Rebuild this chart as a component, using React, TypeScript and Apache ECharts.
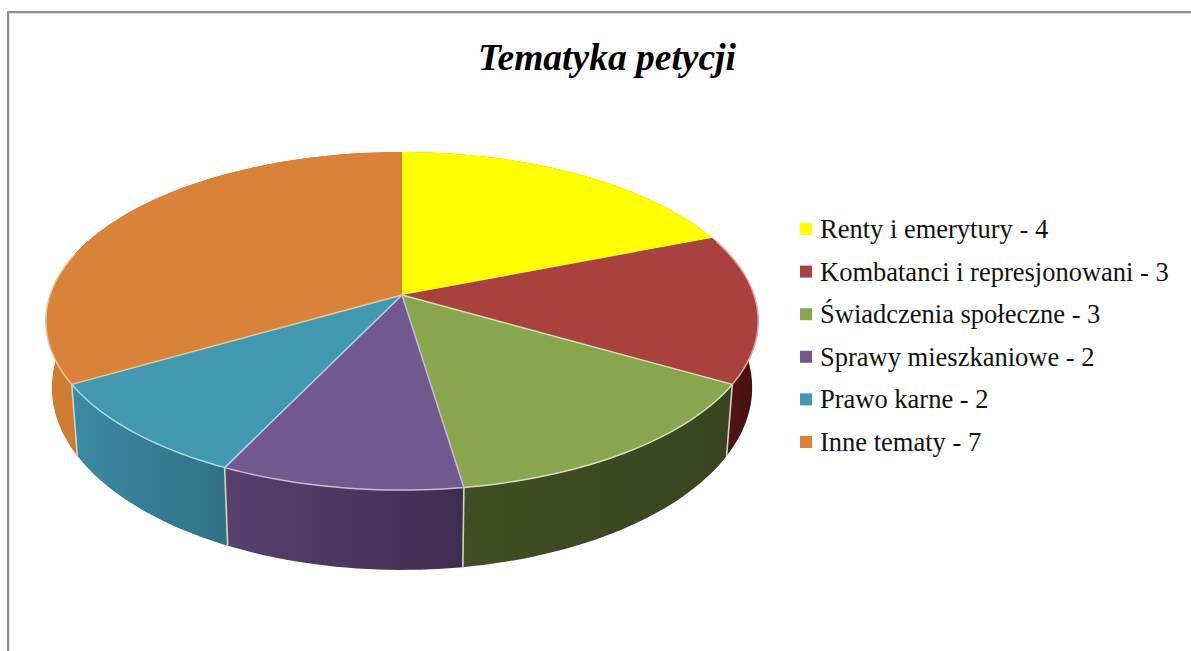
import React, { useEffect, useRef } from "react";
import * as echarts from "echarts";

const categories = [
  "Renty i emerytury - 4",
  "Kombatanci i represjonowani - 3",
  "Świadczenia społeczne - 3",
  "Sprawy mieszkaniowe - 2",
  "Prawo karne - 2",
  "Inne tematy - 7",
];
const values = [4, 3, 3, 2, 2, 7];

const topColors = ["#ffff00", "#a9423f", "#89a54e", "#71588f", "#4198af", "#d9833a"];
const wallLeft = ["#b5b500", "#5c1816", "#404e23", "#59406f", "#3a8aa3", "#d07c32"];
const wallRight = ["#8a8a00", "#460f10", "#39441f", "#3f2d50", "#317186", "#c0722c"];
const edgeColors = ["#ffffb0", "#e0a8a0", "#d9dfb4", "#c9bbd8", "#a8dbe6", "#ecc998"];

const total = values.reduce((a, b) => a + b, 0);
const startOf = (i: number) => values.slice(0, i).reduce((a, b) => a + b, 0);

// Perspective projection of the pie disc: u to the right, v towards the viewer.
const CX = 402;
const K = 0.154;
const project = (deg: number, cy: number, rx: number, ry: number): number[] => {
  const a = (deg * Math.PI) / 180;
  const u = Math.sin(a);
  const v = -Math.cos(a);
  const d = 1 - K * v;
  return [CX + (rx * u) / d, cy + (ry * v) / d];
};
const topPt = (deg: number) => project(deg, 295, 352, 165);
const basePt = (deg: number) => project(deg, 359.5, 346, 178);

const arc = (from: number, to: number, fn: (d: number) => number[]) => {
  const n = Math.max(2, Math.ceil((to - from) / 1.5));
  const pts: number[][] = [];
  for (let i = 0; i <= n; i++) pts.push(fn(from + ((to - from) * i) / n));
  return pts;
};

const makeRenderItem = (index: number) => () => {
  const from = (startOf(index) / total) * 360;
  const to = (startOf(index + 1) / total) * 360;
  const children: any[] = [];
  const wall = [...arc(from, to, topPt), ...arc(from, to, basePt).reverse()];
  children.push({
    type: "polygon",
    z2: 1,
    shape: { points: wall },
    style: {
      fill: {
        type: "linear",
        x: 0,
        y: 0,
        x2: 1,
        y2: 0,
        colorStops: [
          { offset: 0, color: wallLeft[index] },
          { offset: 1, color: wallRight[index] },
        ],
      },
    },
  });
  children.push({
    type: "polygon",
    z2: 10,
    shape: { points: [[CX, 295], ...arc(from, to, topPt)] },
    style: { fill: topColors[index] },
  });
  if (from > 90 && from < 270) {
    const a = topPt(from);
    const b = basePt(from);
    children.push({
      type: "line",
      z2: 5,
      shape: { x1: a[0], y1: a[1], x2: b[0], y2: b[1] },
      style: { stroke: "#d2d2c8", lineWidth: 1.6 },
    });
    children.push({
      type: "line",
      z2: 12,
      shape: { x1: CX, y1: 295, x2: a[0], y2: a[1] },
      style: { stroke: edgeColors[index], lineWidth: 1.5 },
    });
  }
  const arcFrom = Math.max(from, 70);
  const arcTo = Math.min(to, 285);
  if (arcFrom < arcTo) {
    children.push({
      type: "polyline",
      z2: 12,
      shape: { points: arc(arcFrom, arcTo, topPt) },
      style: { stroke: edgeColors[index], lineWidth: 1.5, fill: "none" },
    });
  }
  return { type: "group", children };
};

export default function App() {
  const ref = useRef<HTMLDivElement>(null);
  useEffect(() => {
    if (!ref.current) return;
    const chart = echarts.init(ref.current, undefined, { renderer: "svg" });
    chart.setOption({
      animation: false,
      backgroundColor: "#ffffff",
      title: {
        text: "Tematyka petycji",
        left: 607,
        top: 38,
        textAlign: "center",
        padding: 0,
        textStyle: {
          fontFamily: "Liberation Serif",
          fontStyle: "italic",
          fontWeight: "bold",
          fontSize: 37.5,
          color: "#000000",
        },
      },
      legend: {
        orient: "vertical",
        left: 800,
        top: 215,
        padding: 0,
        itemWidth: 12,
        itemHeight: 12,
        itemGap: 14.6,
        icon: "rect",
        data: categories,
        selectedMode: false,
        textStyle: {
          fontFamily: "Liberation Serif",
          fontSize: 26.5,
          color: "#111111",
          padding: [0, 0, 0, 3],
          height: 28,
          lineHeight: 28,
        },
      },
      graphic: [
        {
          type: "polyline",
          silent: true,
          shape: { points: [[9.5, 651], [9.5, 13.5], [1191, 13.5]] },
          style: { stroke: "#e2e2e2", fill: "none", lineWidth: 1 },
        },
        {
          type: "polyline",
          silent: true,
          shape: { points: [[8, 651], [8, 12], [1191, 12]] },
          style: { stroke: "#8e8e8e", fill: "none", lineWidth: 2 },
        },
      ],
      series: categories.map((name, i) => ({
        type: "custom",
        name,
        coordinateSystem: "none",
        itemStyle: { color: topColors[i] },
        data: [values[i]],
        silent: true,
        renderItem: makeRenderItem(i),
      })),
    });
    return () => chart.dispose();
  }, []);
  return (
    <div
      ref={ref}
      style={{ position: "fixed", left: 0, top: 0, width: 1191, height: 651 }}
    />
  );
}
